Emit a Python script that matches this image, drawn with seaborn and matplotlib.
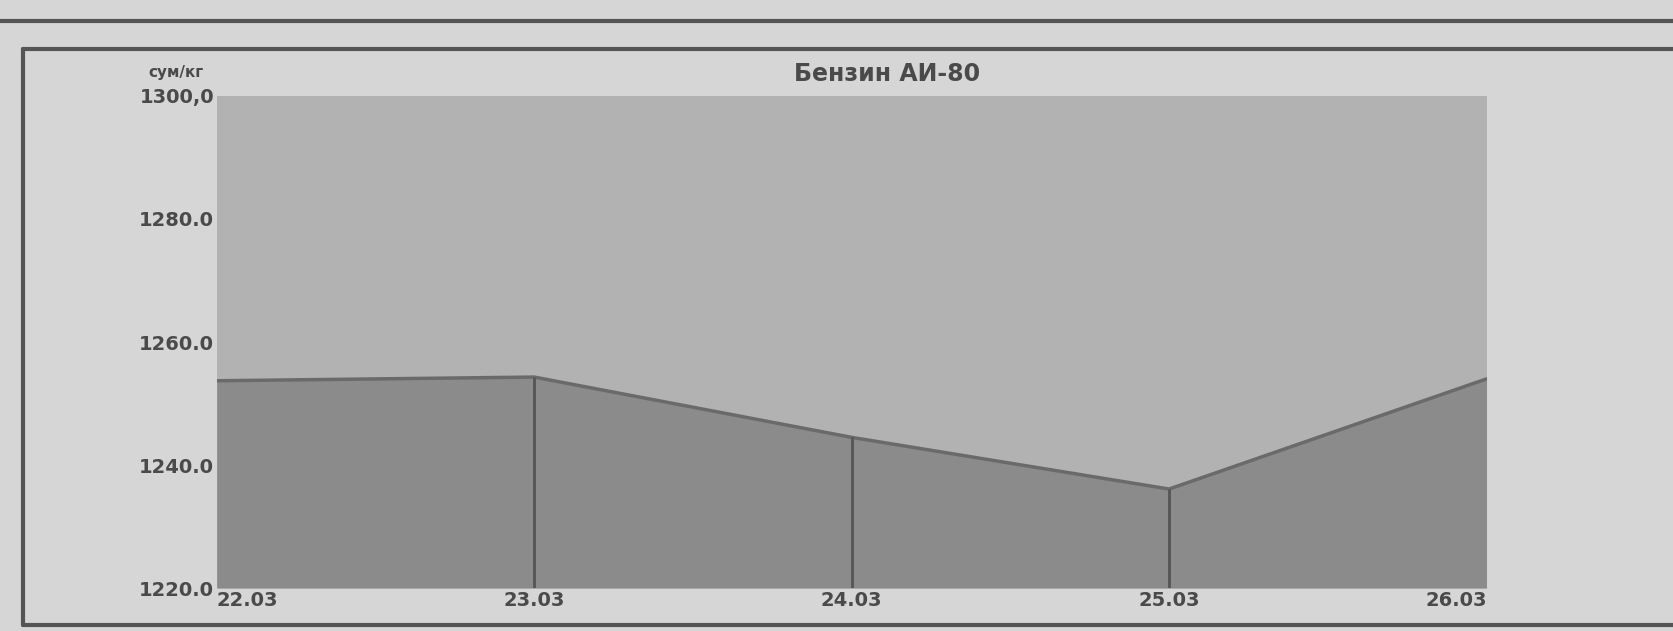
import numpy as np
import pandas as pd
import seaborn as sns
import matplotlib.pyplot as plt
from matplotlib.lines import Line2D

# Data
dates = ['22.03', '23.03', '24.03', '25.03', '26.03']
prices = [1253.7, 1254.3, 1244.5, 1236.1, 1254.0]
y_ticks = [1220, 1240, 1260, 1280, 1300]
y_tick_labels = ['1220.0', '1240.0', '1260.0', '1280.0', '1300,0']
title = 'Бензин АИ-80'
unit = 'сум/кг'

df = pd.DataFrame({'pos': np.arange(len(dates)), 'date': dates, 'price': prices})

sns.set_theme(style='white')
plt.rcParams['font.family'] = ['DejaVu Sans']

BG = '#d6d6d6'
PLOT_BG = '#b2b2b2'
FILL = '#8b8b8b'
EDGE = '#6a6a6a'
TEXT = '#4a4a4a'

fig = plt.figure(figsize=(16.74, 6.31), dpi=100, facecolor=BG)
ax = fig.add_axes([0.1295, 0.068, 0.7585, 0.78])
ax.set_facecolor(PLOT_BG)

ax.fill_between(df['pos'], 1220, df['price'], color=FILL, linewidth=0, zorder=2)
sns.lineplot(data=df, x='pos', y='price', color=EDGE, linewidth=2.5, ax=ax, zorder=3)
# separators under each inner point
ax.vlines(df['pos'][1:-1], 1220, df['price'][1:-1], color='#555555', linewidth=2, zorder=3)

ax.set_xlim(0, len(dates) - 1)
ax.set_ylim(1220, 1300)
ax.set_xlabel('')
ax.set_ylabel('')
for s in ax.spines.values():
    s.set_visible(False)

ax.set_yticks(y_ticks)
ax.set_yticklabels(y_tick_labels, fontsize=14, fontweight='bold', color=TEXT)
ax.tick_params(axis='y', length=0, pad=2)

ax.set_xticks(df['pos'])
ax.set_xticklabels(dates, fontsize=14, fontweight='bold', color=TEXT)
ax.tick_params(axis='x', length=0, pad=2)
xl = ax.get_xticklabels()
xl[0].set_ha('left')
xl[-1].set_ha('right')

fig.text(0.53, 0.882, title, ha='center', va='center', fontsize=17,
         fontweight='bold', color=TEXT)
fig.text(0.105, 0.885, unit, ha='center', va='center', fontsize=11,
         fontweight='bold', color=TEXT)

# scanned frame lines
lc = '#555555'
fig.add_artist(Line2D([0, 1], [0.967, 0.967], color=lc, linewidth=3))
fig.add_artist(Line2D([0.014, 1], [0.922, 0.922], color=lc, linewidth=3))
fig.add_artist(Line2D([0.014, 0.014], [0.922, 0.01], color=lc, linewidth=3))
fig.add_artist(Line2D([0.014, 1], [0.01, 0.01], color=lc, linewidth=3))

fig.savefig('out.png', dpi=100, facecolor=BG)
